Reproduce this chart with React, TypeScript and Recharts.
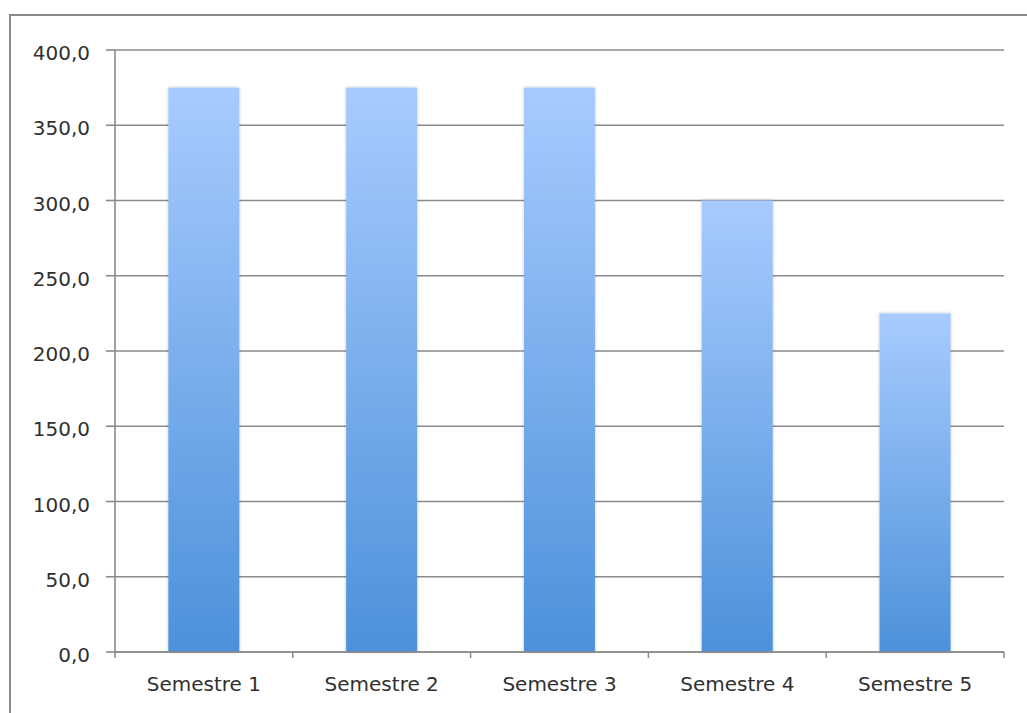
import React from 'react';
import { BarChart, Bar, XAxis, YAxis, CartesianGrid } from 'recharts';

const semesters = ['Semestre 1', 'Semestre 2', 'Semestre 3', 'Semestre 4', 'Semestre 5'];
const values = [375, 375, 375, 300, 225];
const yTicks = [0, 50, 100, 150, 200, 250, 300, 350, 400];

const data = semesters.map((name, i) => ({ name, value: values[i] }));

const W = 1027;
const H = 713;
const MARGIN = { top: 50, right: 23, left: 0, bottom: 0 };
const Y_AXIS_W = 115;
const X_AXIS_H = 61;
const X_TICK_SIZE = 6;
const X_TICK_MARGIN = 19;
const FONT = '"DejaVu Sans", sans-serif';
const FONT_SIZE = 20;
const TEXT = '#303030';
const AXIS_GREY = '#8a8a8a';

const fmt = (v: number) => v.toFixed(1).replace('.', ',');

// tick marks sit on the category boundaries, label stays centred
const BoundaryTick = (props: any) => {
  const { x, y, payload, index, visibleTicksCount } = props;
  const band = (W - MARGIN.left - MARGIN.right - Y_AXIS_W) / semesters.length;
  const half = payload && payload.offset ? payload.offset : band / 2;
  const y1 = y - X_TICK_SIZE - X_TICK_MARGIN;
  const y2 = y1 + X_TICK_SIZE;
  const last = index === (visibleTicksCount ?? semesters.length) - 1;
  return (
    <g>
      <line x1={x - half} y1={y1} x2={x - half} y2={y2} stroke={AXIS_GREY} strokeWidth={1.5} />
      {last && <line x1={x + half} y1={y1} x2={x + half} y2={y2} stroke={AXIS_GREY} strokeWidth={1.5} />}
      <text x={x} y={y} dy="0.71em" textAnchor="middle" fontFamily={FONT} fontSize={FONT_SIZE} fill={TEXT}>
        {payload.value}
      </text>
    </g>
  );
};

const ShadedBar = (props: any) => {
  const { x, y, width, height } = props;
  if (!height || height <= 0) return null;
  return <rect x={x} y={y} width={width} height={height} fill="url(#barFill)" filter="url(#barShadow)" />;
};

export default function App() {
  return (
    <div style={{ position: 'absolute', left: 0, top: 0, width: W, height: H, background: '#fff', overflow: 'hidden' }}>
      <div
        style={{
          position: 'absolute',
          left: 9,
          top: 14,
          right: -10,
          bottom: -10,
          borderTop: '2px solid #8a8a8a',
          borderLeft: '2px solid #8a8a8a',
        }}
      />
      <div style={{ position: 'absolute', left: 0, top: 0 }}>
        <BarChart width={W} height={H} data={data} margin={MARGIN} barCategoryGap="30%">
          <defs>
            <linearGradient id="barFill" x1="0" y1="0" x2="0" y2="1">
              <stop offset="0%" stopColor="#a8cbfe" />
              <stop offset="100%" stopColor="#4c91da" />
            </linearGradient>
            <filter id="barShadow" x="-20%" y="-5%" width="140%" height="110%">
              <feDropShadow dx="0" dy="0" stdDeviation="1.5" floodColor="#000" floodOpacity="0.25" />
            </filter>
          </defs>
          <CartesianGrid vertical={false} stroke={AXIS_GREY} strokeWidth={1.6} />
          <YAxis
            width={Y_AXIS_W}
            domain={[0, 400]}
            ticks={yTicks}
            interval={0}
            tickFormatter={fmt}
            tickSize={9}
            tickMargin={16}
            axisLine={{ stroke: AXIS_GREY, strokeWidth: 1.6 }}
            tickLine={{ stroke: AXIS_GREY, strokeWidth: 1.6 }}
            tick={{ fontFamily: FONT, fontSize: FONT_SIZE, fill: TEXT, dy: 3 }}
          />
          <XAxis
            dataKey="name"
            height={X_AXIS_H}
            interval={0}
            tickSize={X_TICK_SIZE}
            tickMargin={X_TICK_MARGIN}
            tickLine={false}
            axisLine={{ stroke: AXIS_GREY, strokeWidth: 1.6 }}
            tick={<BoundaryTick />}
          />
          <Bar dataKey="value" shape={<ShadedBar />} isAnimationActive={false} />
        </BarChart>
      </div>
    </div>
  );
}
